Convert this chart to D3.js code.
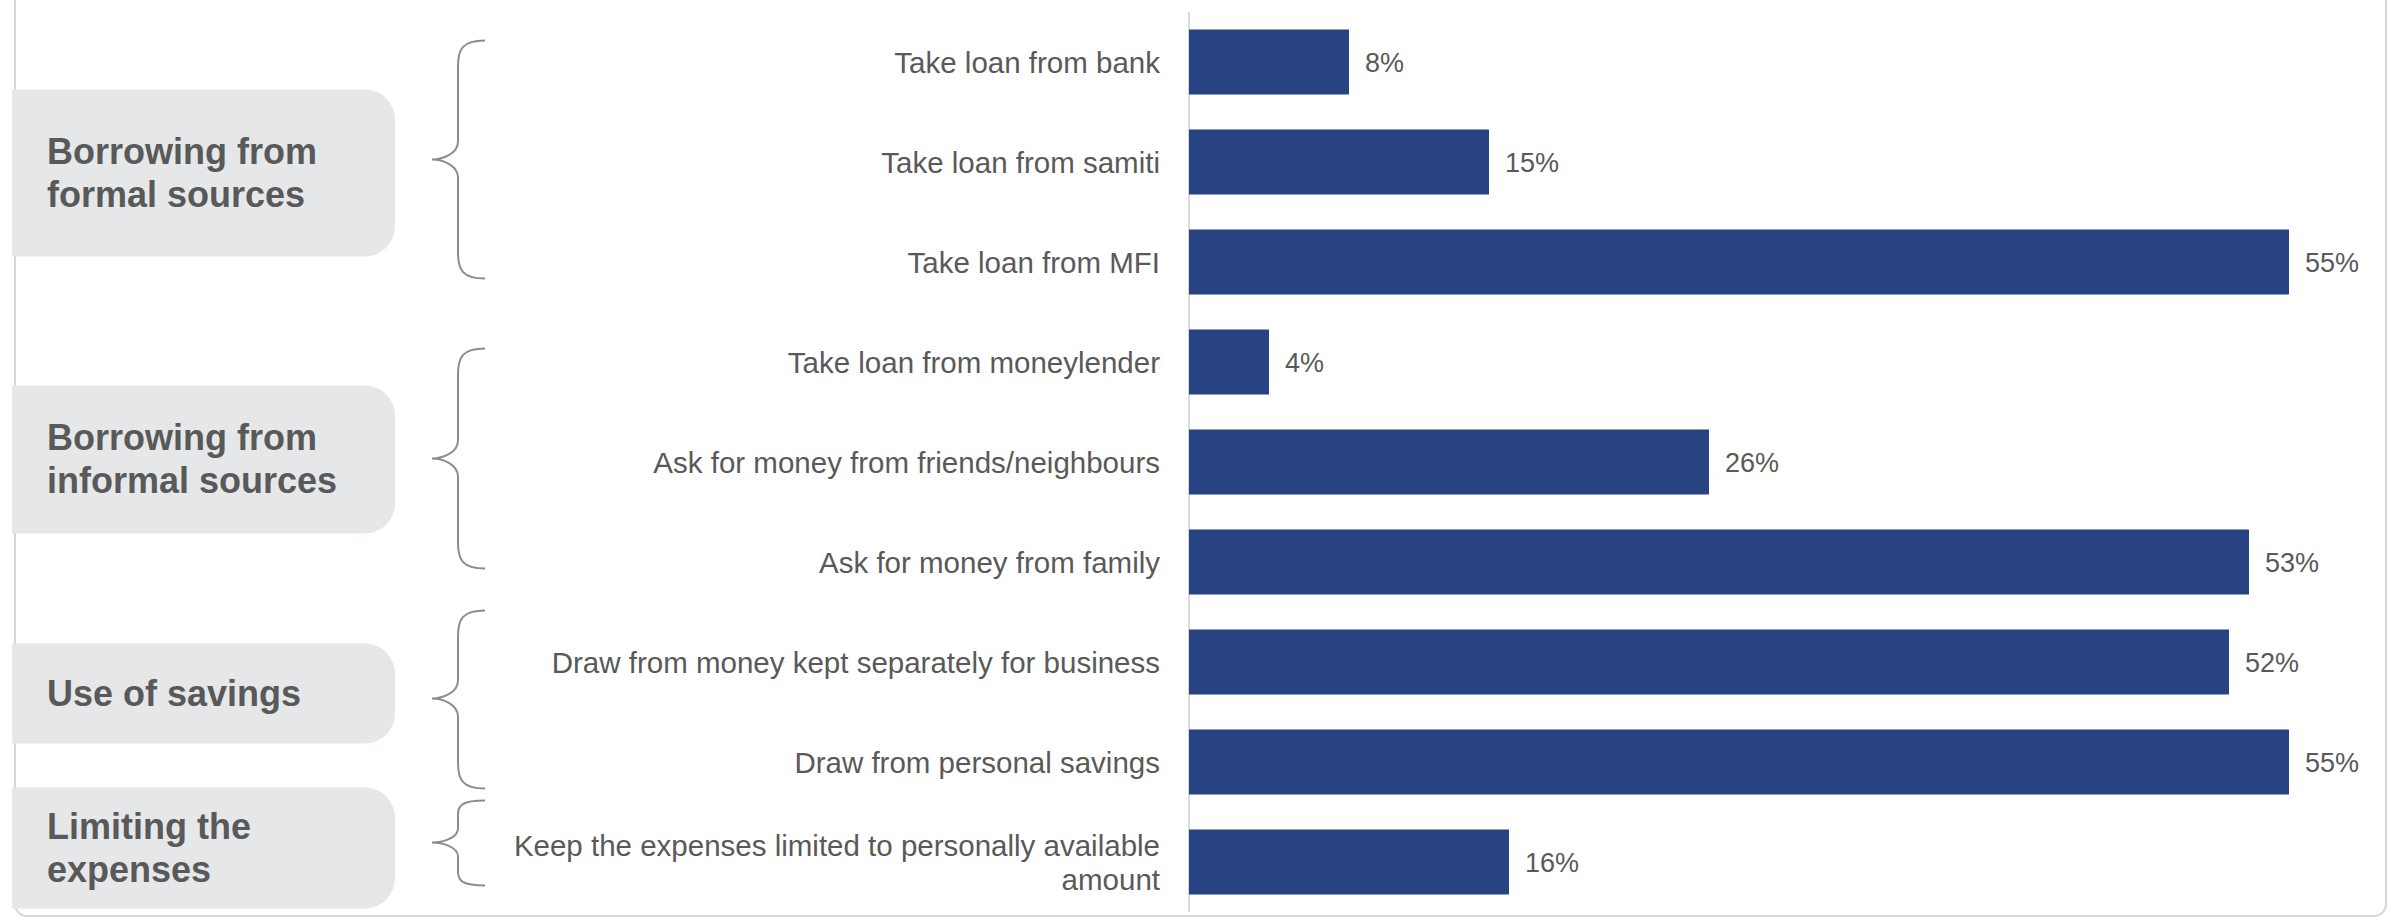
<!DOCTYPE html>
<html>
<head>
<meta charset="utf-8">
<script src="https://cdn.jsdelivr.net/npm/d3@7"></script>
<style>
  html, body { margin: 0; padding: 0; background: #ffffff; }
  svg { display: block; }
</style>
</head>
<body>
<svg id="chart" width="2403" height="918"></svg>
<script>
// ---- data ----
const categories = [
  "Take loan from bank",
  "Take loan from samiti",
  "Take loan from MFI",
  "Take loan from moneylender",
  "Ask for money from friends/neighbours",
  "Ask for money from family",
  "Draw from money kept separately for business",
  "Draw from personal savings",
  "Keep the expenses limited to personally available amount"
];
const values = [8, 15, 55, 4, 26, 53, 52, 55, 16];

const groupNames = [
  ["Borrowing from", "formal sources"],
  ["Borrowing from", "informal sources"],
  ["Use of savings"],
  ["Limiting the", "expenses"]
];
// first and last category index covered by each group
const groupRows = [[0, 2], [3, 5], [6, 7], [8, 8]];

// ---- layout ----
const W = 2403, H = 918;
const BAR = "#284382";
const TEXT = "#595959";
const FONT = "'Liberation Sans', Arial, sans-serif";

// vertical offsets (px) of each group's box and brace, relative to the centre of its bars
const groupLayout = [
  { boxTop: -72.5, boxBottom: 94.5, braceTop: -121.5, braceBottom: 116.5, tip: -2.5 },
  { boxTop: -76.5, boxBottom: 71.5, braceTop: -113.5, braceBottom: 106.5, tip: -3.5 },
  { boxTop: -68.5, boxBottom: 31.5, braceTop: -101.5, braceBottom: 76.5, tip: -13.5 },
  { boxTop: -74.5, boxBottom: 46.5, braceTop: -61.5,  braceBottom: 23.5,  tip: -19.5 }
];

const svg = d3.select("#chart");

// outer frame
svg.append("rect")
  .attr("x", 15).attr("y", -30)
  .attr("width", 2371).attr("height", 946)
  .attr("rx", 12)
  .attr("fill", "none")
  .attr("stroke", "#d6d6d6")
  .attr("stroke-width", 2);

const y = d3.scaleBand()
  .domain(d3.range(categories.length))
  .range([12, 912])
  .paddingInner(0.35)
  .paddingOuter(0.175);

const x = d3.scaleLinear().domain([0, 60]).range([1189, 2389]);

// vertical axis line
svg.append("line")
  .attr("x1", x(0)).attr("x2", x(0))
  .attr("y1", y.range()[0]).attr("y2", y.range()[1])
  .attr("stroke", "#d9d9d9")
  .attr("stroke-width", 2);

// bars
svg.append("g").selectAll("rect")
  .data(values)
  .join("rect")
  .attr("x", x(0))
  .attr("y", (d, i) => y(i))
  .attr("width", d => x(d) - x(0))
  .attr("height", y.bandwidth())
  .attr("fill", BAR);

// value labels
svg.append("g").selectAll("text")
  .data(values)
  .join("text")
  .attr("x", d => x(d) + 16)
  .attr("y", (d, i) => y(i) + y.bandwidth() / 2)
  .attr("dy", "0.36em")
  .attr("font-family", FONT)
  .attr("font-size", 27)
  .attr("fill", TEXT)
  .text(d => d + "%");

// category labels, right aligned and wrapped
const catSize = 29.5, catLine = 34, labelRight = 1160, wrapWidth = 680;
const catG = svg.append("g")
  .attr("font-family", FONT)
  .attr("font-size", catSize)
  .attr("fill", TEXT)
  .attr("text-anchor", "end");

categories.forEach((label, i) => {
  const t = catG.append("text").attr("x", labelRight);
  const words = label.split(" ");
  const lines = [];
  let line = [];
  const probe = t.append("tspan");
  words.forEach(w => {
    line.push(w);
    probe.text(line.join(" "));
    if (probe.node().getComputedTextLength() > wrapWidth && line.length > 1) {
      line.pop();
      lines.push(line.join(" "));
      line = [w];
    }
  });
  lines.push(line.join(" "));
  probe.remove();
  const cy = y(i) + y.bandwidth() / 2;
  const first = cy - (lines.length - 1) * catLine / 2 + catSize * 0.36;
  lines.forEach((l, k) => {
    t.append("tspan").attr("x", labelRight).attr("y", first + k * catLine).text(l);
  });
});

// group boxes, names and braces
const boxLeft = 12, boxRight = 395, boxR = 30;
const stemX = 458, tipX = 432, endX = 485;
const grpSize = 36, grpLine = 43.3;

groupRows.forEach(([a, b], g) => {
  const cy = (y(a) + y(b) + y.bandwidth()) / 2;
  const L = groupLayout[g];
  const top = cy + L.boxTop, bot = cy + L.boxBottom;

  svg.append("path")
    .attr("d", `M${boxLeft},${top} H${boxRight - boxR} A${boxR},${boxR} 0 0 1 ${boxRight},${top + boxR}
      V${bot - boxR} A${boxR},${boxR} 0 0 1 ${boxRight - boxR},${bot} H${boxLeft} Z`)
    .attr("fill", "#e6e7e9");

  const names = groupNames[g];
  const mid = (top + bot) / 2;
  const firstBase = mid - (names.length - 1) * grpLine / 2 + grpSize * 0.34;
  const t = svg.append("text")
    .attr("font-family", FONT)
    .attr("font-size", grpSize)
    .attr("font-weight", "bold")
    .attr("fill", TEXT);
  names.forEach((n, k) => {
    t.append("tspan").attr("x", 47).attr("y", firstBase + k * grpLine).text(n);
  });

  const bt = cy + L.braceTop, bb = cy + L.braceBottom, tp = cy + L.tip;
  const r = Math.min(26, (tp - bt) / 3, (bb - tp) / 3);
  const rt = Math.min(18, (tp - bt) / 3, (bb - tp) / 3);
  svg.append("path")
    .attr("d", `M${endX},${bt}
      C${stemX + 4},${bt} ${stemX},${bt + r * 0.35} ${stemX},${bt + r}
      V${tp - rt}
      C${stemX},${tp - rt * 0.3} ${tipX + 10},${tp} ${tipX},${tp}
      C${tipX + 10},${tp} ${stemX},${tp + rt * 0.3} ${stemX},${tp + rt}
      V${bb - r}
      C${stemX},${bb - r * 0.35} ${stemX + 4},${bb} ${endX},${bb}`)
    .attr("fill", "none")
    .attr("stroke", "#8a8c90")
    .attr("stroke-width", 2);
});
</script>
</body>
</html>
